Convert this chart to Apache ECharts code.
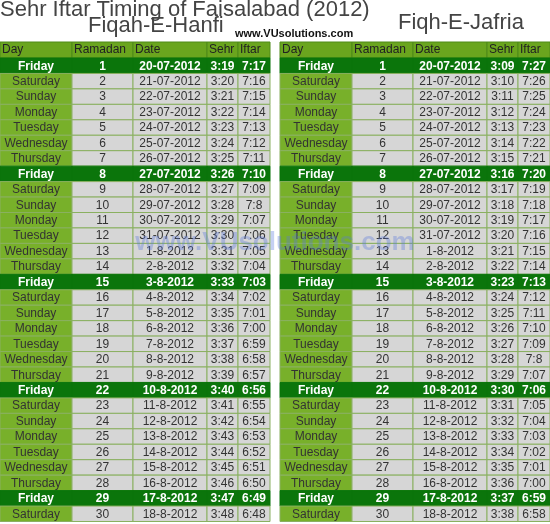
<!DOCTYPE html>
<html><head><meta charset="utf-8">
<script src="https://cdn.jsdelivr.net/npm/echarts@6/dist/echarts.min.js"></script>
<style>body{margin:0}#main{width:550px;height:524px}</style>
</head><body><div id="main"></div>
<script>
var days = ['Friday','Saturday','Sunday','Monday','Tuesday','Wednesday','Thursday'];
var ramadan = [];
for (var i = 1; i <= 30; i++) ramadan.push(i);
var dates = ['20-07-2012','21-07-2012','22-07-2012','23-07-2012','24-07-2012','25-07-2012','26-07-2012',
  '27-07-2012','28-07-2012','29-07-2012','30-07-2012','31-07-2012','1-8-2012','2-8-2012',
  '3-8-2012','4-8-2012','5-8-2012','6-8-2012','7-8-2012','8-8-2012','9-8-2012',
  '10-8-2012','11-8-2012','12-8-2012','13-8-2012','14-8-2012','15-8-2012','16-8-2012',
  '17-8-2012','18-8-2012'];
var hanfiSehr = ['3:19','3:20','3:21','3:22','3:23','3:24','3:25','3:26','3:27','3:28','3:29','3:30','3:31','3:32','3:33',
  '3:34','3:35','3:36','3:37','3:38','3:39','3:40','3:41','3:42','3:43','3:44','3:45','3:46','3:47','3:48'];
var hanfiIftar = ['7:17','7:16','7:15','7:14','7:13','7:12','7:11','7:10','7:09','7:8','7:07','7:06','7:05','7:04','7:03',
  '7:02','7:01','7:00','6:59','6:58','6:57','6:56','6:55','6:54','6:53','6:52','6:51','6:50','6:49','6:48'];
var jafriaSehr = ['3:09','3:10','3:11','3:12','3:13','3:14','3:15','3:16','3:17','3:18','3:19','3:20','3:21','3:22','3:23',
  '3:24','3:25','3:26','3:27','3:28','3:29','3:30','3:31','3:32','3:33','3:34','3:35','3:36','3:37','3:38'];
var jafriaIftar = ['7:27','7:26','7:25','7:24','7:23','7:22','7:21','7:20','7:19','7:18','7:17','7:16','7:15','7:14','7:13',
  '7:12','7:11','7:10','7:09','7:8','7:07','7:06','7:05','7:04','7:03','7:02','7:01','7:00','6:59','6:58'];
var headers = ['Day','Ramadan','Date','Sehr','Iftar'];

var chart = echarts.init(document.getElementById('main'));
var colW = [72, 61, 74, 31, 32];
var top0 = 42, headH = 16, rowH = 15.45;
var g = [];

function table(x0, sehr, iftar) {
    var x = x0;
    headers.forEach(function (h, c) {
        g.push({type:'rect', shape:{x:x, y:top0, width:colW[c], height:headH},
            style:{fill:'#6aa51e', stroke:'#4f8a18', lineWidth:1}});
        g.push({type:'text', x:x+2, y:top0+headH/2, style:{text:h, fill:'#222', font:'12px Liberation Sans', verticalAlign:'middle'}});
        x += colW[c];
    });
    for (var r = 0; r < 30; r++) {
        var fri = r % 7 === 0;
        var y = top0 + headH + r*rowH;
        var vals = [days[r%7], String(ramadan[r]), dates[r], sehr[r], iftar[r]];
        x = x0;
        for (var c = 0; c < 5; c++) {
            var fill = fri ? '#0b750b' : (c === 0 ? '#78b02a' : '#d6d6d6');
            g.push({type:'rect', shape:{x:x, y:y, width:colW[c], height:rowH},
                style:{fill:fill, stroke: fri ? '#0b750b' : '#8ab060', lineWidth:1}});
            g.push({type:'text', x:x+colW[c]/2, y:y+rowH/2+0.5, style:{text:vals[c],
                fill: fri ? '#fff' : '#333', font:(fri?'bold ':'')+'12px Liberation Sans',
                align:'center', verticalAlign:'middle'}});
            x += colW[c];
        }
    }
}
table(0, hanfiSehr, hanfiIftar);
table(280, jafriaSehr, jafriaIftar);

g.push({type:'text', x:0, y:-1, style:{text:'Sehr Iftar Timing of Faisalabad (2012)', fill:'#444', font:'22px Liberation Sans'}});
g.push({type:'text', x:88, y:15, style:{text:'Fiqah-E-Hanfi', fill:'#444', font:'22px Liberation Sans'}});
g.push({type:'text', x:398, y:12, style:{text:'Fiqh-E-Jafria', fill:'#444', font:'22px Liberation Sans'}});
g.push({type:'text', x:235, y:28, style:{text:'www.VUsolutions.com', fill:'#111', font:'bold 11px Liberation Sans'}});
g.push({type:'text', x:275, y:243, style:{text:'www.VUsolutions.com', fill:'rgba(90,120,220,0.35)', font:'bold 26px Liberation Sans', align:'center', verticalAlign:'middle'}});

chart.setOption({backgroundColor:'#fff', graphic:g});
</script>
</body></html>
